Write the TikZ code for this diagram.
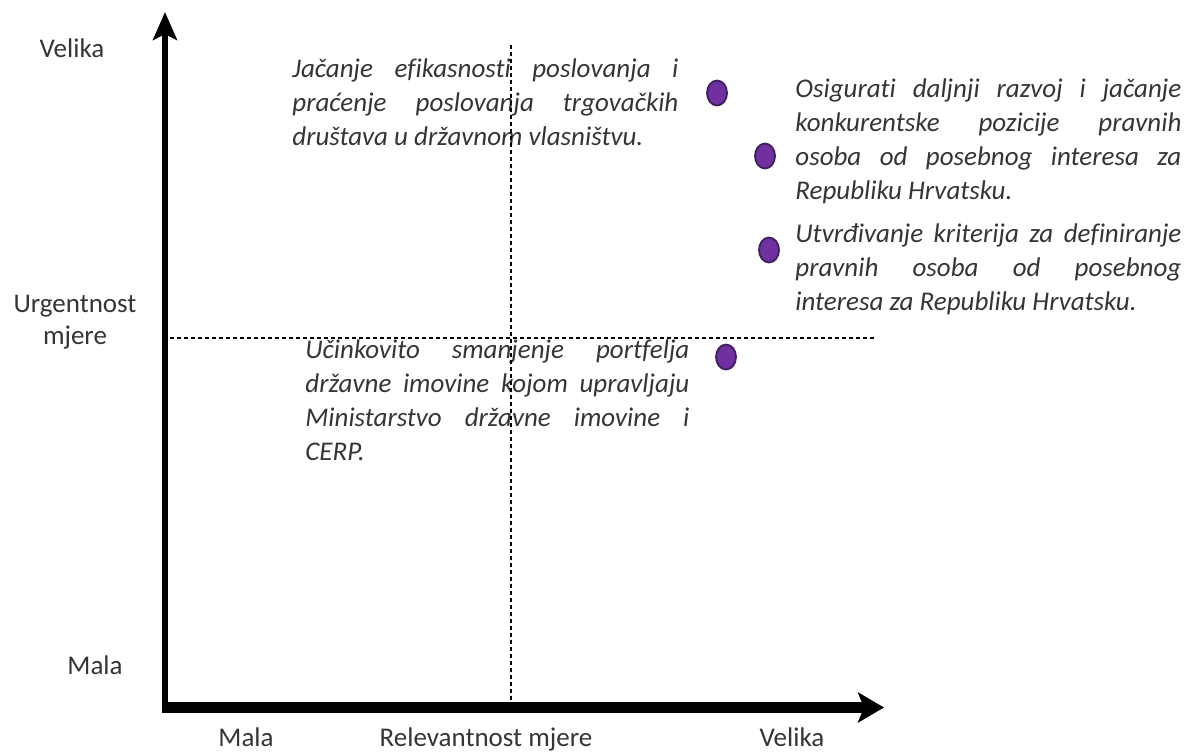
\documentclass[tikz,border=0pt]{standalone}
\usepackage{fontspec}
\setmainfont{Carlito}[Ligatures=NoCommon]
\usetikzlibrary{arrows.meta,shapes.geometric,positioning}
\definecolor{dotfill}{HTML}{7030A0}
\definecolor{dotline}{HTML}{3E1D5C}
\definecolor{txtgray}{HTML}{353535}
\tolerance=10000 \hbadness=10000

\begin{document}
\begin{tikzpicture}[x=0.5pt,y=-0.5pt,
	lbl/.style={text=txtgray, font=\fontsize{13.5}{16}\selectfont, align=center, inner sep=0pt},
	measure/.style={text=txtgray, font=\itshape\fontsize{13.5}{17}\selectfont, text width=193pt, align=justify, inner sep=0pt, anchor=base west},
	dot/.style={ellipse, fill=dotfill, draw=dotline, line width=0.9pt, minimum width=10pt, minimum height=12.5pt, inner sep=0pt},
	guide/.style={line width=1pt, dash pattern=on 2pt off 1.5pt}]
	\useasboundingbox (0,0) rectangle (1188,753);
	% axes
	\coordinate (ybase) at (165,712);
	\coordinate (ytip) at (165,12);
	\coordinate (xbase) at (162,707.5);
	\coordinate (xtip) at (884,707.5);
	\draw[line width=3.3pt, -{Stealth[length=14pt, width=12pt, inset=3pt]}] (ybase) -- (ytip);
	\draw[line width=5.5pt, -{Stealth[length=13pt, width=15pt, inset=3pt]}] (xbase) -- (xtip);
	% quadrant lines
	\coordinate (vtop) at (511,45);
	\coordinate (vbot) at (511,703);
	\coordinate (hleft) at (170,338);
	\coordinate (hright) at (877,338);
	% axis labels
	\node[lbl, anchor=base] (yhigh) at (72,58) {Velika};
	\node[lbl, anchor=base] (ytitle) at (75,313) {Urgentnost};
	\node[lbl, anchor=base] (ytitle2) at (75,345) {mjere};
	\node[lbl, anchor=base] (ylow) at (95,674) {Mala};
	\node[lbl, anchor=base] (xlow) at (246,746) {Mala};
	\node[lbl, anchor=base] (xtitle) at (486,746) {Relevantnost mjere};
	\node[lbl, anchor=base] (xhigh) at (792,746) {Velika};
	% measures
	\node[measure] (m1) at (292,78) {Jačanje efikasnosti poslovanja i\linebreak
		praćenje poslovanja trgovačkih\linebreak
		društava u državnom vlasništvu.};
	\node[measure] (m2) at (795,98) {Osigurati daljnji razvoj i jačanje\linebreak
		konkurentske pozicije pravnih\linebreak
		osoba od posebnog interesa za\linebreak
		Republiku Hrvatsku.};
	\node[measure] (m3) at (795,243) {Utvrđivanje kriterija za definiranje\linebreak
		pravnih osoba od posebnog\linebreak
		interesa za Republiku Hrvatsku.};
	\node[measure, text width=192pt] (m4) at (305,359) {Učinkovito smanjenje portfelja\linebreak
		državne imovine kojom upravljaju\linebreak
		Ministarstvo državne imovine i\linebreak
		CERP.};
	\node[dot] (d1) at (717,93) {};
	\node[dot] (d2) at (765,156) {};
	\node[dot] (d3) at (769,250) {};
	\node[dot] (d4) at (726,357) {};
	\draw[guide] (vtop) -- (vbot);
	\draw[guide] (hleft) -- (hright);
\end{tikzpicture}
\end{document}
